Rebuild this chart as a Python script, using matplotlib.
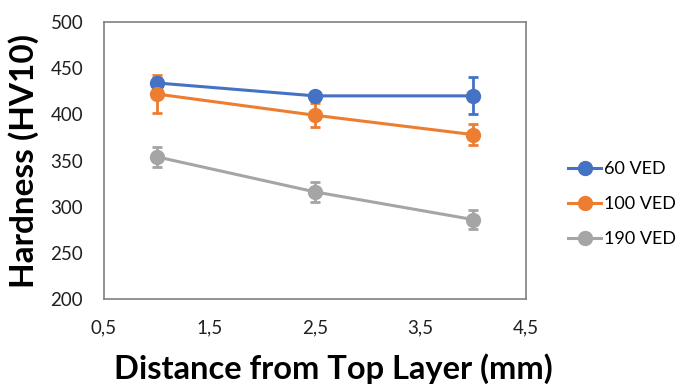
import matplotlib.pyplot as plt
from matplotlib.lines import Line2D

# distances from the top layer (mm)
distance = [1.0, 2.5, 4.0]

# hardness values (HV10) and their error bars
hv_60 = [434, 420, 420]
err_60 = [5, 4, 20]
hv_100 = [422, 399, 378]
err_100 = [21, 13, 11]
hv_190 = [354, 316, 286]
err_190 = [11, 11, 10]

labels = ["60 VED", "100 VED", "190 VED"]
colors = ["#4472C4", "#ED7D31", "#A5A5A5"]

x_ticks = [0.5, 1.5, 2.5, 3.5, 4.5]
x_tick_labels = ["0,5", "1,5", "2,5", "3,5", "4,5"]
y_ticks = [200, 250, 300, 350, 400, 450, 500]

plt.rcParams["font.family"] = ["Lato", "DejaVu Sans"]

# create the figure
fig = plt.figure(figsize=(6.83, 3.86), dpi=100)
ax = fig.add_axes([104 / 683, 1 - 299 / 386, 422 / 683, 277 / 386])

# the three series with error bars
handles = []
for hv, err, lab, col in zip([hv_60, hv_100, hv_190], [err_60, err_100, err_190], labels, colors):
    ax.errorbar(distance, hv, yerr=err, color=col, lw=2.2, marker="o", ms=10,
                capsize=3.5, capthick=2, elinewidth=2)
    handles.append(Line2D([], [], color=col, lw=2.2, marker="o", ms=10, label=lab))

ax.set_xlim(0.5, 4.5)
ax.set_ylim(200, 500)
ax.set_xticks(x_ticks)
ax.set_xticklabels(x_tick_labels)
ax.set_yticks(y_ticks)
ax.tick_params(length=0, labelsize=13.5, labelcolor="#202020", pad=15)

for s in ax.spines.values():
    s.set_color("#808080")
    s.set_linewidth(1.2)

# and some labels
ax.set_xlabel("Distance from Top Layer (mm)", fontsize=23.5, fontweight="bold")
ax.xaxis.set_label_coords(0.543, -0.195)
ax.set_ylabel("Hardness (HV10)", fontsize=24, fontweight="bold", labelpad=8)

ax.legend(handles=handles, loc="center left", bbox_to_anchor=(552 / 683, 1 - 204 / 386),
          bbox_transform=fig.transFigure, frameon=False, fontsize=13,
          handlelength=1.8, labelspacing=1.05, handletextpad=0.2)

fig.savefig("out.png", dpi=100)
